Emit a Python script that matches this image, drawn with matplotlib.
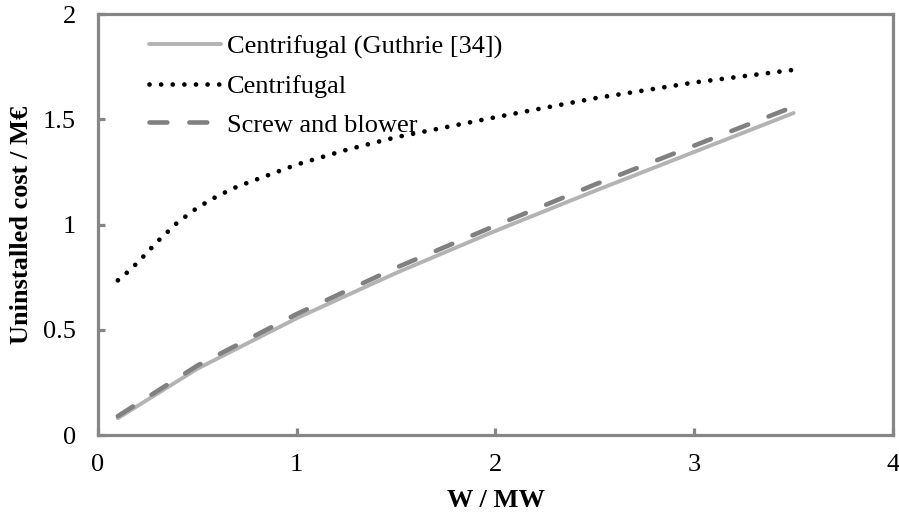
import matplotlib
matplotlib.use("Agg")
import matplotlib.pyplot as plt

# Data
x_guthrie = [0.1, 0.5, 1.0, 1.5, 2.0, 2.5, 3.0, 3.5]
y_guthrie = [0.08, 0.315, 0.555, 0.77, 0.97, 1.16, 1.345, 1.53]

x_centr = [0.1, 0.15, 0.2, 0.3, 0.4, 0.5, 0.6, 0.7, 0.8, 1.0, 1.25, 1.5, 2.0, 2.5, 3.0, 3.5]
y_centr = [0.735, 0.775, 0.82, 0.92, 1.01, 1.08, 1.135, 1.18, 1.215, 1.285, 1.355, 1.415, 1.51, 1.60, 1.675, 1.735]

x_screw = [0.1, 0.5, 1.0, 1.5, 2.0, 2.5, 3.0, 3.5]
y_screw = [0.09, 0.33, 0.575, 0.795, 0.995, 1.19, 1.375, 1.56]

labels = ["Centrifugal (Guthrie [34])", "Centrifugal", "Screw and blower"]
xticks = [0, 1, 2, 3, 4]
yticks = [0, 0.5, 1, 1.5, 2]
ytick_labels = ["0", "0.5", "1", "1.5", "2"]

plt.rcParams['font.family'] = ['Liberation Serif', 'DejaVu Serif']

fig = plt.figure(figsize=(8.99, 5.21), dpi=100)
ax = fig.add_axes([0.109, 0.165, 0.8843, 0.808])

ax.plot(x_guthrie, y_guthrie, color='#b3b3b3', lw=2.8, solid_capstyle='round',
        label=labels[0])
ax.plot(x_centr, y_centr, color='black', lw=3.4, linestyle=(0, (0.01, 2.45)),
        dash_capstyle='round', label=labels[1])
ax.plot(x_screw, y_screw, color='#808080', lw=3.3, linestyle=(0, (3.9, 4.8)),
        dash_capstyle='round', label=labels[2])

ax.set_xlim(0, 4)
ax.set_ylim(0, 2)
ax.set_xticks(xticks)
ax.set_xticklabels([str(t) for t in xticks])
ax.set_yticks(yticks)
ax.set_yticklabels(ytick_labels)

for s in ax.spines.values():
    s.set_color('#868686')
    s.set_linewidth(2.3)
ax.tick_params(direction='in', length=5, width=2.3, color='#868686',
               labelsize=19)
ax.tick_params(axis='y', pad=16)
ax.tick_params(axis='x', pad=14)

ax.set_xlabel('W / MW', fontsize=19, fontweight='bold', labelpad=9)
ax.set_ylabel('Uninstalled cost / M€', fontsize=19, fontweight='bold', labelpad=7)

leg = ax.legend(loc='upper left', frameon=False, fontsize=19, handlelength=2.7,
                handletextpad=0.22, labelspacing=0.58, borderaxespad=0,
                bbox_to_anchor=(0.0515, 0.975))

fig.savefig('out.png', dpi=100)
